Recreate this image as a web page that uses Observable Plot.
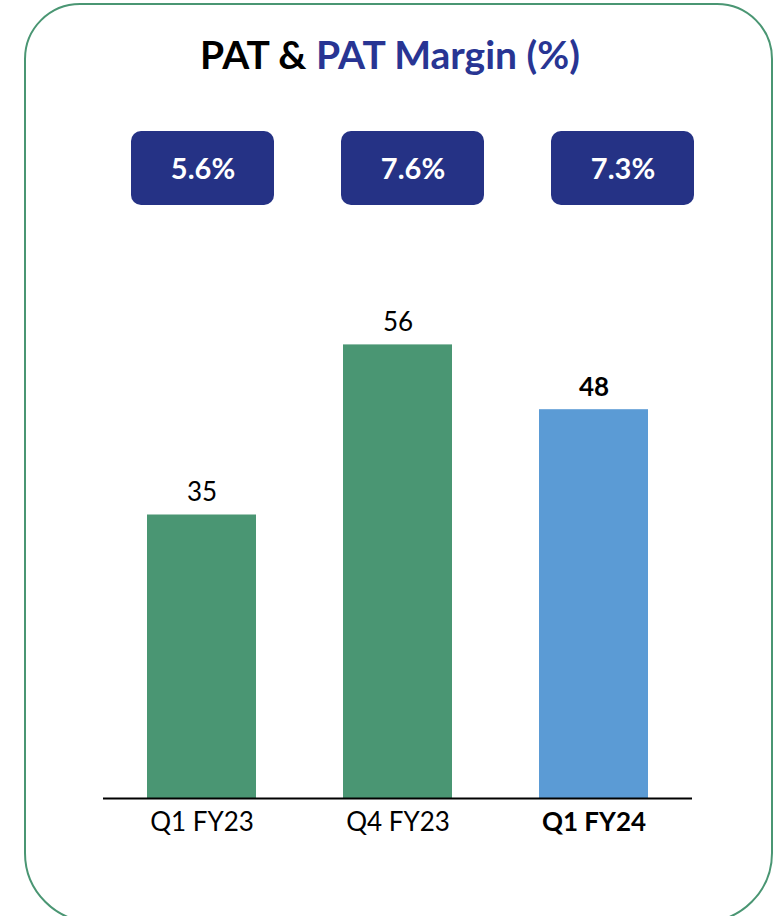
<!DOCTYPE html>
<html>
<head>
<meta charset="utf-8">
<script src="https://cdn.jsdelivr.net/npm/d3@7"></script>
<script src="https://cdn.jsdelivr.net/npm/@observablehq/plot@0.6"></script>
<style>
  html, body { margin: 0; padding: 0; background: #fff; width: 777px; height: 916px; overflow: hidden; }
  body { position: relative; font-family: Lato, "Open Sans", sans-serif; }
  #card { position: absolute; left: 24px; top: 3px; width: 749px; height: 920px; box-sizing: border-box;
          border: 2.5px solid #4A9673; border-radius: 56px 56px 70px 70px; }
  #title { position: absolute; left: 0; width: 780px; top: 29px; text-align: center;
           font-size: 39px; font-weight: 700; color: #000; line-height: 50px; }
  #title .blue { color: #283593; }
  #boxes { position: absolute; left: 0; top: 131px; }
  #bars { position: absolute; left: 0; top: 290px; }
  svg { overflow: visible; }
</style>
</head>
<body>
<div id="card"></div>
<div id="title">PAT &amp; <span class="blue">PAT Margin (%)</span></div>
<div id="boxes"></div>
<div id="bars"></div>
<script>
const categories = ["Q1 FY23", "Q4 FY23", "Q1 FY24"];
const patValues = [35, 56, 48];
const marginLabels = ["5.6%", "7.6%", "7.3%"];
const highlight = [false, false, true];

const barData = categories.map((c, i) => ({cat: c, value: patValues[i], hl: highlight[i]}));
const marginData = categories.map((c, i) => ({cat: c, label: marginLabels[i]}));

const green = "#4A9673", blue = "#5B9BD5", navy = "#253285";

const boxes = Plot.plot({
  width: 777, height: 74,
  marginLeft: 97, marginRight: 49, marginTop: 0, marginBottom: 0,
  x: {domain: categories, paddingInner: 0.32, paddingOuter: 0.16, axis: null},
  style: {fontFamily: "Lato, 'Open Sans', sans-serif", background: "transparent"},
  marks: [
    Plot.cell(marginData, {x: "cat", fill: navy, rx: 10, inset: 0}),
    Plot.text(marginData, {x: "cat", text: "label", fill: "white", fontSize: 29, fontWeight: 700, frameAnchor: "middle", dy: 1})
  ]
});
document.getElementById("boxes").appendChild(boxes);

const bars = Plot.plot({
  width: 777, height: 568,
  marginLeft: 103, marginRight: 85, marginTop: 22, marginBottom: 60,
  x: {domain: categories, paddingInner: 0.445, paddingOuter: 0.2225, axis: null},
  y: {domain: [0, 60], axis: null},
  style: {fontFamily: "Lato, 'Open Sans', sans-serif", background: "transparent"},
  marks: [
    Plot.barY(barData, {x: "cat", y: "value", fill: d => d.hl ? blue : green}),
    Plot.ruleY([0], {stroke: "#000", strokeWidth: 2}),
    Plot.text(barData.filter(d => !d.hl), {x: "cat", y: "value", text: d => String(d.value), dy: -22, fontSize: 26, fill: "#000"}),
    Plot.text(barData.filter(d => d.hl), {x: "cat", y: "value", text: d => String(d.value), dy: -22, fontSize: 26, fontWeight: 700, fill: "#000"}),
    Plot.text(barData.filter(d => !d.hl), {x: "cat", frameAnchor: "bottom", text: "cat", dy: 32, fontSize: 26, fill: "#000"}),
    Plot.text(barData.filter(d => d.hl), {x: "cat", frameAnchor: "bottom", text: "cat", dy: 32, fontSize: 26, fontWeight: 700, fill: "#000"})
  ]
});
document.getElementById("bars").appendChild(bars);
</script>
</body>
</html>
